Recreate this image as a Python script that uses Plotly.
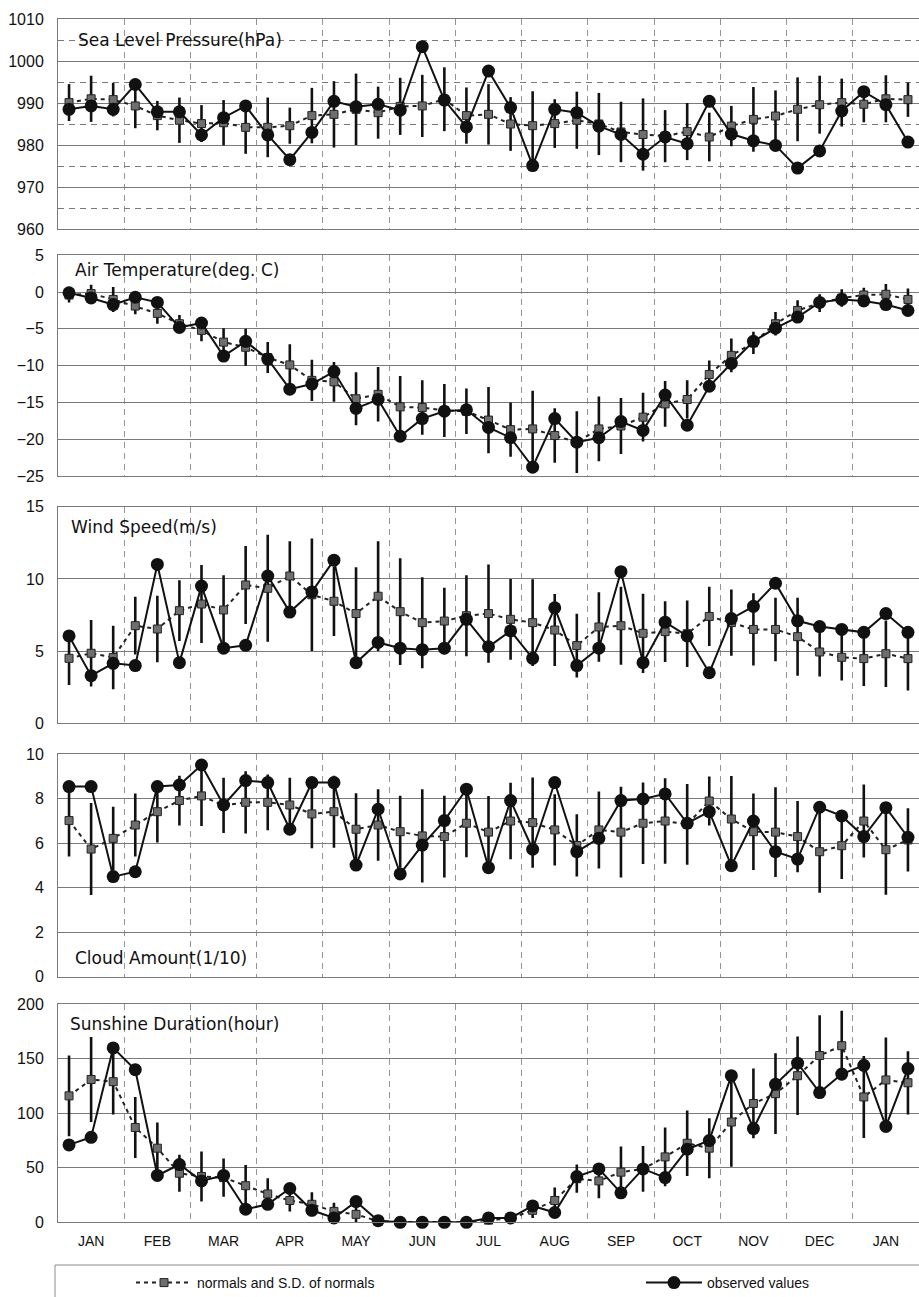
import plotly.graph_objects as go
from plotly.subplots import make_subplots

# ---------------- data (10-day periods, JAN .. JAN of next year) ----------------
months = ["JAN", "FEB", "MAR", "APR", "MAY", "JUN", "JUL", "AUG", "SEP", "OCT", "NOV", "DEC", "JAN"]
periods_per_month = 3

pressure_obs = [988.5, 989.3, 988.5, 994.4, 987.9, 987.9, 982.4, 986.5, 989.3, 982.4,
                976.5, 983.0, 990.4, 989.1, 989.7, 988.3, 1003.4, 990.7, 984.3, 997.6,
                988.9, 975.1, 988.5, 987.7, 984.5, 982.5, 977.8, 981.9, 980.3, 990.4,
                982.6, 981.0, 979.9, 974.5, 978.6, 988.1, 992.7, 989.6, 980.7]
pressure_norm = [990.1, 991.0, 990.8, 989.3, 987.0, 985.9, 985.1, 985.3, 984.2, 984.2,
                 984.6, 987.0, 987.3, 988.5, 987.7, 989.2, 989.3, 990.9, 987.0, 987.3,
                 985.0, 984.6, 985.1, 985.9, 985.0, 983.1, 982.5, 982.1, 983.2, 981.9,
                 984.5, 986.1, 986.9, 988.5, 989.6, 990.1, 989.7, 991.0, 990.8]
pressure_sd = [4.4, 5.5, 4.0, 5.3, 3.5, 5.4, 4.4, 5.4, 6.3, 7.1,
               4.3, 6.6, 7.9, 8.5, 6.2, 6.8, 7.4, 7.6, 6.7, 7.2,
               6.4, 8.2, 5.8, 6.8, 7.4, 7.2, 8.6, 6.2, 6.8, 5.8,
               4.8, 7.7, 6.1, 7.6, 6.9, 5.7, 4.3, 5.6, 4.1]

temp_obs = [-0.1, -0.8, -1.7, -0.7, -1.4, -4.8, -4.2, -8.7, -6.7, -9.1,
            -13.2, -12.5, -10.8, -15.8, -14.6, -19.6, -17.2, -16.2, -16.0, -18.4,
            -19.8, -23.8, -17.2, -20.4, -19.8, -17.6, -18.8, -14.0, -18.1, -12.8,
            -9.7, -6.7, -4.9, -3.4, -1.4, -1.0, -1.2, -1.7, -2.5]
temp_norm = [-0.4, -0.2, -1.0, -1.9, -2.9, -4.3, -5.2, -6.8, -7.5, -8.9,
             -9.9, -12.0, -12.2, -14.5, -13.9, -15.6, -15.7, -16.1, -16.2, -17.4,
             -18.7, -18.6, -19.5, -20.4, -18.6, -18.2, -17.0, -15.2, -14.6, -11.2,
             -8.6, -6.9, -4.3, -2.5, -1.5, -0.8, -0.4, -0.3, -1.0]
temp_sd = [1.0, 1.2, 1.7, 1.1, 1.4, 1.2, 1.5, 1.9, 2.5, 2.1,
           2.8, 2.8, 2.7, 3.6, 3.7, 4.2, 3.7, 3.6, 3.1, 4.5,
           3.7, 5.2, 3.7, 4.2, 4.4, 3.8, 3.3, 3.1, 2.6, 1.9,
           2.3, 1.5, 1.6, 1.4, 1.2, 1.2, 1.0, 1.4, 1.5]

wind_obs = [6.05, 3.3, 4.15, 4.0, 11.0, 4.2, 9.5, 5.2, 5.4, 10.2,
            7.7, 9.1, 11.3, 4.2, 5.6, 5.2, 5.1, 5.2, 7.2, 5.3,
            6.4, 4.5, 8.0, 4.0, 5.2, 10.5, 4.2, 7.0, 6.05, 3.5,
            7.25, 8.1, 9.7, 7.1, 6.7, 6.5, 6.3, 7.6, 6.3]
wind_norm = [4.5, 4.85, 4.55, 6.76, 6.53, 7.8, 8.26, 7.85, 9.58, 9.35,
             10.2, 8.9, 8.45, 7.6, 8.8, 7.73, 6.97, 7.08, 7.45, 7.6,
             7.2, 6.97, 6.46, 5.38, 6.67, 6.76, 6.23, 6.35, 6.2, 7.4,
             6.97, 6.5, 6.5, 6.0, 4.94, 4.57, 4.48, 4.82, 4.48]
wind_sd = [1.85, 2.3, 2.2, 2.0, 2.3, 2.1, 2.7, 2.4, 2.7, 3.7,
           2.4, 3.9, 2.4, 3.2, 3.8, 3.7, 3.15, 2.3, 2.8, 3.4,
           2.8, 3.0, 2.5, 2.2, 2.4, 2.7, 2.75, 2.1, 2.3, 2.05,
           2.3, 2.5, 2.2, 2.7, 1.7, 1.6, 1.9, 2.3, 2.2]

cloud_obs = [8.55, 8.55, 4.5, 4.72, 8.55, 8.62, 9.52, 7.72, 8.82, 8.73,
             6.63, 8.73, 8.73, 5.02, 7.53, 4.62, 5.92, 7.02, 8.43, 4.9,
             7.92, 5.73, 8.73, 5.62, 6.22, 7.92, 7.99, 8.22, 6.9, 7.42,
             4.99, 7.0, 5.62, 5.29, 7.62, 7.23, 6.3, 7.6, 6.27]
cloud_norm = [7.02, 5.74, 6.22, 6.82, 7.42, 7.92, 8.13, 7.7, 7.84, 7.84,
              7.72, 7.32, 7.42, 6.63, 6.82, 6.52, 6.33, 6.3, 6.9, 6.5,
              7.0, 6.93, 6.6, 5.9, 6.6, 6.5, 6.9, 7.0, 6.85, 7.9,
              7.09, 6.52, 6.5, 6.3, 5.62, 5.89, 7.0, 5.71, 6.15]
cloud_sd = [1.62, 2.07, 1.42, 1.42, 1.39, 1.12, 1.35, 1.24, 1.4, 1.25,
            1.23, 1.54, 1.62, 1.62, 1.61, 1.62, 2.1, 1.84, 1.53, 1.62,
            1.72, 2.03, 1.6, 1.4, 1.73, 2.04, 1.83, 1.92, 1.82, 1.1,
            1.93, 1.72, 2.02, 1.6, 1.84, 1.5, 1.64, 2.03, 1.42]

sun_obs = [71, 78, 160, 140, 43, 53, 38, 43, 12, 16.5,
           31, 11, 4, 19, 1.5, 0, 0, 0, 0, 4,
           4, 15, 9, 42, 49, 27, 49, 41, 67, 75,
           134.5, 86, 126.6, 146, 119, 136, 144, 88, 141]
sun_norm = [116, 131, 129, 87, 68, 45, 42, 41, 33.6, 26,
            20, 16.5, 10, 7.3, 1, 0.3, 0.3, 0.3, 0.3, 2,
            3.5, 11, 20, 40, 38, 46, 49, 60, 72.5, 68,
            92, 109, 118, 134.5, 153, 162, 115, 130.6, 128]
sun_sd = [37, 39, 30, 28, 23.5, 17, 23, 17.6, 19, 14.5,
          10, 11, 8, 10, 1, 0, 0, 0, 0, 2,
          3, 7, 12, 13, 16, 23.5, 21, 27, 30, 27.5,
          41, 32, 37, 36, 37, 32, 37.6, 39, 29]

# ---------------- layout constants ----------------
W, H = 919, 1297
LEFT = 58
PLOT_W = W - LEFT

n_periods = len(months) * periods_per_month
x = list(range(n_periods))
month_ticks = [m * periods_per_month + 1 for m in range(len(months))]

panels = [
    dict(obs=pressure_obs, norm=pressure_norm, sd=pressure_sd, rng=[960, 1010], dtick=10,
         title="Sea Level Pressure(hPa)", top=19, bot=229, tx=76, ty=40, minor=True),
    dict(obs=temp_obs, norm=temp_norm, sd=temp_sd, rng=[-25, 5], dtick=5,
         title="Air Temperature(deg. C)", top=255.3, bot=476, tx=73, ty=270, minor=False),
    dict(obs=wind_obs, norm=wind_norm, sd=wind_sd, rng=[0, 15], dtick=5,
         title="Wind Speed(m/s)", top=506.7, bot=723.3, tx=69, ty=527, minor=False),
    dict(obs=cloud_obs, norm=cloud_norm, sd=cloud_sd, rng=[0, 10], dtick=2,
         title="Cloud Amount(1/10)", top=754.3, bot=976.7, tx=73, ty=958, minor=False),
    dict(obs=sun_obs, norm=sun_norm, sd=sun_sd, rng=[0, 200], dtick=50,
         title="Sunshine Duration(hour)", top=1004.3, bot=1222.3, tx=68, ty=1024, minor=False),
]

GRID = "#7a7a7a"
VGRID = "#959595"
INK = "#111111"

fig = make_subplots(rows=len(panels), cols=1)

for i, p in enumerate(panels, start=1):
    fig.add_trace(go.Scatter(
        x=x, y=p["norm"], mode="lines+markers", name="normals and S.D. of normals",
        legend="legend", showlegend=(i == 1), cliponaxis=False,
        line=dict(color="#222222", width=2, dash="4px,4px"),
        marker=dict(symbol="square", size=8, color="#6e6e6e", line=dict(color="#222222", width=1)),
        error_y=dict(type="data", array=p["sd"], visible=True, thickness=2.6, width=0, color=INK),
    ), row=i, col=1)
    fig.add_trace(go.Scatter(
        x=x, y=p["obs"], mode="lines+markers", name="observed values",
        legend="legend2", showlegend=(i == 1), cliponaxis=False,
        line=dict(color=INK, width=2),
        marker=dict(symbol="circle", size=13, color=INK),
    ), row=i, col=1)

    fig.update_yaxes(
        row=i, col=1, range=p["rng"], dtick=p["dtick"], tick0=p["rng"][0],
        domain=[1 - p["bot"] / H, 1 - p["top"] / H],
        showgrid=True, gridcolor=GRID, gridwidth=1, zeroline=False,
        showline=True, mirror=True, linecolor=GRID, linewidth=1, ticks="",
        tickfont=dict(family="Liberation Sans, Arial, sans-serif", size=16, color=INK),
        ticklabelstandoff=10, automargin=False,
    )
    if p["minor"]:
        fig.update_yaxes(row=i, col=1, minor=dict(tick0=965, dtick=10, showgrid=True,
                                                  gridcolor=GRID, gridwidth=1, griddash="6px,5px"))
    fig.update_xaxes(
        row=i, col=1, range=[-0.5, n_periods - 0.5],
        tickmode="array", tickvals=month_ticks, ticktext=months,
        showticklabels=(i == len(panels)), showgrid=False, zeroline=False,
        showline=True, mirror=True, linecolor=GRID, linewidth=1, ticks="",
        minor=dict(tick0=-0.5, dtick=periods_per_month, showgrid=True,
                   gridcolor=VGRID, gridwidth=1, griddash="6px,5px"),
        tickfont=dict(family="Liberation Sans, Arial, sans-serif", size=14, color=INK),
        ticklabelstandoff=6, automargin=False,
    )
    fig.add_annotation(
        text=p["title"], xref="paper", yref="paper",
        x=(p["tx"] - LEFT) / PLOT_W, y=1 - p["ty"] / H,
        xanchor="left", yanchor="middle", showarrow=False,
        font=dict(family="DejaVu Sans, sans-serif", size=17, color=INK),
    )

# legend frame
fig.add_shape(type="rect", xref="paper", yref="paper",
              x0=(55 - LEFT) / PLOT_W, x1=1.01, y0=-0.03, y1=1 - 1265 / H,
              line=dict(color="#8c8c8c", width=1), fillcolor="rgba(0,0,0,0)")

legend_common = dict(orientation="h", y=1 - 1283 / H, xanchor="left", yanchor="middle",
                     itemwidth=56,
                     font=dict(family="Liberation Sans, Arial, sans-serif", size=14, color=INK),
                     bgcolor="rgba(0,0,0,0)", borderwidth=0)

fig.update_layout(
    width=W, height=H,
    margin=dict(l=LEFT, r=0, t=0, b=0, autoexpand=False),
    paper_bgcolor="white", plot_bgcolor="white",
    showlegend=True,
    legend=dict(x=(131 - LEFT) / PLOT_W, **legend_common),
    legend2=dict(x=(641 - LEFT) / PLOT_W, **legend_common),
    font=dict(family="Liberation Sans, Arial, sans-serif", color=INK),
)

fig.write_html("out.html")
